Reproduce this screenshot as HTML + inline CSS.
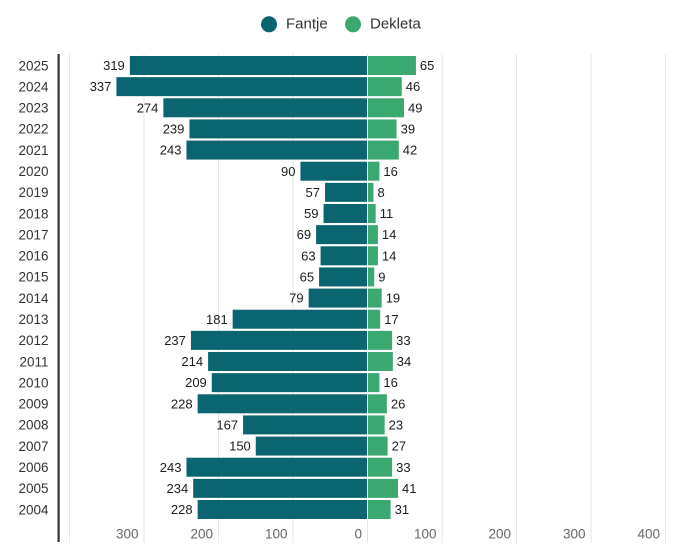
<!DOCTYPE html>
<html>
<head>
<meta charset="utf-8">
<style>
  html, body { margin: 0; padding: 0; background: #ffffff; }
  svg { display: block; font-family: "Liberation Sans", Arial, sans-serif; }
  .yr { font-size: 13.5px; fill: #333333; text-anchor: end; }
  .vl { font-size: 13px; fill: #1d1d1d; }
  .vr { font-size: 13px; fill: #1d1d1d; text-anchor: end; }
  .ax { font-size: 13.5px; fill: #666666; text-anchor: end; }
  .lg { font-size: 15px; fill: #333333; }
  .f { fill: #0b6570; }
  .d { fill: #3ba86f; }
</style>
</head>
<body>
<svg width="700" height="555" viewBox="0 0 700 555" xmlns="http://www.w3.org/2000/svg">
  <rect x="0" y="0" width="700" height="555" fill="#ffffff"/>

  <!-- legend -->
  <circle cx="269" cy="24.3" r="8" class="f"/>
  <text x="286" y="28.7" class="lg">Fantje</text>
  <circle cx="353" cy="24.3" r="8" class="d"/>
  <text x="370" y="28.7" class="lg">Dekleta</text>

  <!-- gridlines -->
  <g fill="#e6e6e6">
    <rect x="69" y="54" width="1" height="489"/>
    <rect x="143.5" y="54" width="1" height="489"/>
    <rect x="218" y="54" width="1" height="489"/>
    <rect x="292.5" y="54" width="1" height="489"/>
    <rect x="367" y="54" width="1" height="489"/>
    <rect x="441.5" y="54" width="1" height="489"/>
    <rect x="516" y="54" width="1" height="489"/>
    <rect x="590.5" y="54" width="1" height="489"/>
    <rect x="665" y="54" width="1" height="489"/>
  </g>
  <rect x="367" y="56" width="1" height="463" fill="#ffffff"/>

  <!-- axis line -->
  <rect x="57.5" y="54" width="2.2" height="488" fill="#333333"/>

  <!-- bottom axis labels -->
  <text x="138.5" y="538.3" class="ax">300</text>
  <text x="213" y="538.3" class="ax">200</text>
  <text x="287.5" y="538.3" class="ax">100</text>
  <text x="362" y="538.3" class="ax">0</text>
  <text x="436.5" y="538.3" class="ax">100</text>
  <text x="511" y="538.3" class="ax">200</text>
  <text x="585.5" y="538.3" class="ax">300</text>
  <text x="660" y="538.3" class="ax">400</text>

  <!-- rows -->
  <g transform="translate(0,56)">
    <text x="48.5" y="14.3" class="yr">2025</text>
    <rect x="129.84" y="0" width="237.16" height="19" class="f"/>
    <rect x="368" y="0" width="47.93" height="19" class="d"/>
    <text x="124.8" y="14.1" class="vr">319</text>
    <text x="419.9" y="14.1" class="vl">65</text>
  </g>
  <g transform="translate(0,77.14)">
    <text x="48.5" y="14.3" class="yr">2024</text>
    <rect x="116.43" y="0" width="250.57" height="19" class="f"/>
    <rect x="368" y="0" width="33.77" height="19" class="d"/>
    <text x="111.4" y="14.1" class="vr">337</text>
    <text x="405.8" y="14.1" class="vl">46</text>
  </g>
  <g transform="translate(0,98.29)">
    <text x="48.5" y="14.3" class="yr">2023</text>
    <rect x="163.37" y="0" width="203.63" height="19" class="f"/>
    <rect x="368" y="0" width="36" height="19" class="d"/>
    <text x="158.4" y="14.1" class="vr">274</text>
    <text x="408" y="14.1" class="vl">49</text>
  </g>
  <g transform="translate(0,119.43)">
    <text x="48.5" y="14.3" class="yr">2022</text>
    <rect x="189.44" y="0" width="177.56" height="19" class="f"/>
    <rect x="368" y="0" width="28.56" height="19" class="d"/>
    <text x="184.4" y="14.1" class="vr">239</text>
    <text x="400.6" y="14.1" class="vl">39</text>
  </g>
  <g transform="translate(0,140.57)">
    <text x="48.5" y="14.3" class="yr">2021</text>
    <rect x="186.46" y="0" width="180.54" height="19" class="f"/>
    <rect x="368" y="0" width="30.79" height="19" class="d"/>
    <text x="181.5" y="14.1" class="vr">243</text>
    <text x="402.8" y="14.1" class="vl">42</text>
  </g>
  <g transform="translate(0,161.71)">
    <text x="48.5" y="14.3" class="yr">2020</text>
    <rect x="300.45" y="0" width="66.55" height="19" class="f"/>
    <rect x="368" y="0" width="11.42" height="19" class="d"/>
    <text x="295.5" y="14.1" class="vr">90</text>
    <text x="383.4" y="14.1" class="vl">16</text>
  </g>
  <g transform="translate(0,182.86)">
    <text x="48.5" y="14.3" class="yr">2019</text>
    <rect x="325.03" y="0" width="41.97" height="19" class="f"/>
    <rect x="368" y="0" width="5.46" height="19" class="d"/>
    <text x="320" y="14.1" class="vr">57</text>
    <text x="377.5" y="14.1" class="vl">8</text>
  </g>
  <g transform="translate(0,204)">
    <text x="48.5" y="14.3" class="yr">2018</text>
    <rect x="323.54" y="0" width="43.46" height="19" class="f"/>
    <rect x="368" y="0" width="7.7" height="19" class="d"/>
    <text x="318.5" y="14.1" class="vr">59</text>
    <text x="379.7" y="14.1" class="vl">11</text>
  </g>
  <g transform="translate(0,225.14)">
    <text x="48.5" y="14.3" class="yr">2017</text>
    <rect x="316.09" y="0" width="50.91" height="19" class="f"/>
    <rect x="368" y="0" width="9.93" height="19" class="d"/>
    <text x="311.1" y="14.1" class="vr">69</text>
    <text x="381.9" y="14.1" class="vl">14</text>
  </g>
  <g transform="translate(0,246.29)">
    <text x="48.5" y="14.3" class="yr">2016</text>
    <rect x="320.56" y="0" width="46.44" height="19" class="f"/>
    <rect x="368" y="0" width="9.93" height="19" class="d"/>
    <text x="315.6" y="14.1" class="vr">63</text>
    <text x="381.9" y="14.1" class="vl">14</text>
  </g>
  <g transform="translate(0,267.43)">
    <text x="48.5" y="14.3" class="yr">2015</text>
    <rect x="319.07" y="0" width="47.93" height="19" class="f"/>
    <rect x="368" y="0" width="6.21" height="19" class="d"/>
    <text x="314.1" y="14.1" class="vr">65</text>
    <text x="378.2" y="14.1" class="vl">9</text>
  </g>
  <g transform="translate(0,288.57)">
    <text x="48.5" y="14.3" class="yr">2014</text>
    <rect x="308.64" y="0" width="58.36" height="19" class="f"/>
    <rect x="368" y="0" width="13.66" height="19" class="d"/>
    <text x="303.6" y="14.1" class="vr">79</text>
    <text x="385.7" y="14.1" class="vl">19</text>
  </g>
  <g transform="translate(0,309.71)">
    <text x="48.5" y="14.3" class="yr">2013</text>
    <rect x="232.65" y="0" width="134.35" height="19" class="f"/>
    <rect x="368" y="0" width="12.17" height="19" class="d"/>
    <text x="227.7" y="14.1" class="vr">181</text>
    <text x="384.2" y="14.1" class="vl">17</text>
  </g>
  <g transform="translate(0,330.86)">
    <text x="48.5" y="14.3" class="yr">2012</text>
    <rect x="190.93" y="0" width="176.07" height="19" class="f"/>
    <rect x="368" y="0" width="24.09" height="19" class="d"/>
    <text x="185.9" y="14.1" class="vr">237</text>
    <text x="396.1" y="14.1" class="vl">33</text>
  </g>
  <g transform="translate(0,352)">
    <text x="48.5" y="14.3" class="yr">2011</text>
    <rect x="208.07" y="0" width="158.93" height="19" class="f"/>
    <rect x="368" y="0" width="24.83" height="19" class="d"/>
    <text x="203.1" y="14.1" class="vr">214</text>
    <text x="396.8" y="14.1" class="vl">34</text>
  </g>
  <g transform="translate(0,373.14)">
    <text x="48.5" y="14.3" class="yr">2010</text>
    <rect x="211.79" y="0" width="155.21" height="19" class="f"/>
    <rect x="368" y="0" width="11.42" height="19" class="d"/>
    <text x="206.8" y="14.1" class="vr">209</text>
    <text x="383.4" y="14.1" class="vl">16</text>
  </g>
  <g transform="translate(0,394.29)">
    <text x="48.5" y="14.3" class="yr">2009</text>
    <rect x="197.64" y="0" width="169.36" height="19" class="f"/>
    <rect x="368" y="0" width="18.87" height="19" class="d"/>
    <text x="192.6" y="14.1" class="vr">228</text>
    <text x="390.9" y="14.1" class="vl">26</text>
  </g>
  <g transform="translate(0,415.43)">
    <text x="48.5" y="14.3" class="yr">2008</text>
    <rect x="243.08" y="0" width="123.92" height="19" class="f"/>
    <rect x="368" y="0" width="16.64" height="19" class="d"/>
    <text x="238.1" y="14.1" class="vr">167</text>
    <text x="388.6" y="14.1" class="vl">23</text>
  </g>
  <g transform="translate(0,436.57)">
    <text x="48.5" y="14.3" class="yr">2007</text>
    <rect x="255.75" y="0" width="111.25" height="19" class="f"/>
    <rect x="368" y="0" width="19.62" height="19" class="d"/>
    <text x="250.8" y="14.1" class="vr">150</text>
    <text x="391.6" y="14.1" class="vl">27</text>
  </g>
  <g transform="translate(0,457.71)">
    <text x="48.5" y="14.3" class="yr">2006</text>
    <rect x="186.46" y="0" width="180.54" height="19" class="f"/>
    <rect x="368" y="0" width="24.09" height="19" class="d"/>
    <text x="181.5" y="14.1" class="vr">243</text>
    <text x="396.1" y="14.1" class="vl">33</text>
  </g>
  <g transform="translate(0,478.86)">
    <text x="48.5" y="14.3" class="yr">2005</text>
    <rect x="193.17" y="0" width="173.83" height="19" class="f"/>
    <rect x="368" y="0" width="30.05" height="19" class="d"/>
    <text x="188.2" y="14.1" class="vr">234</text>
    <text x="402" y="14.1" class="vl">41</text>
  </g>
  <g transform="translate(0,500)">
    <text x="48.5" y="14.3" class="yr">2004</text>
    <rect x="197.64" y="0" width="169.36" height="19" class="f"/>
    <rect x="368" y="0" width="22.6" height="19" class="d"/>
    <text x="192.6" y="14.1" class="vr">228</text>
    <text x="394.6" y="14.1" class="vl">31</text>
  </g>
</svg>
</body>
</html>
